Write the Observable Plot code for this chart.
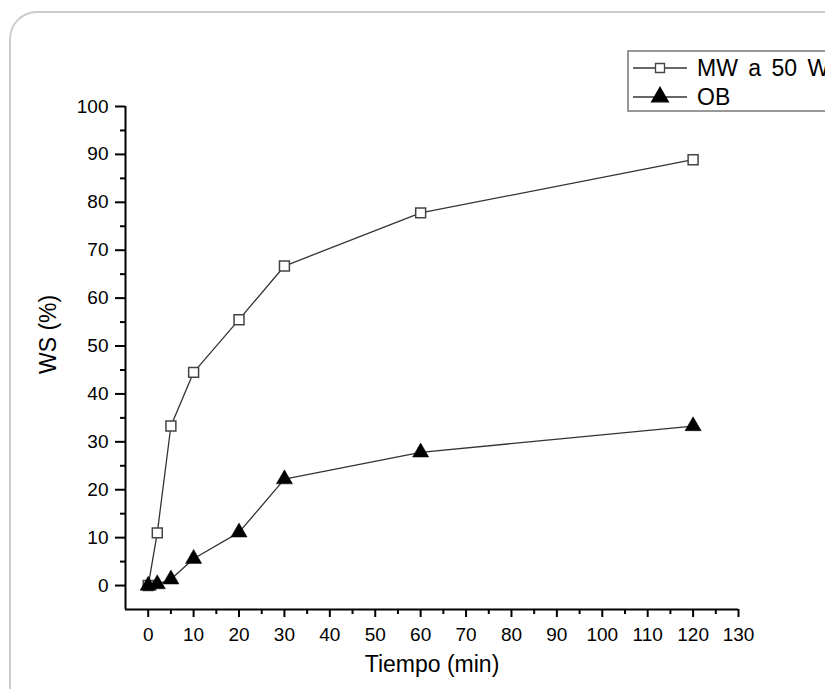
<!DOCTYPE html>
<html>
<head>
<meta charset="utf-8">
<script src="https://cdn.jsdelivr.net/npm/d3@7"></script>
<script src="https://cdn.jsdelivr.net/npm/@observablehq/plot@0.6"></script>
<style>
  html, body { margin: 0; padding: 0; background: #fff; }
  #wrap { position: relative; width: 825px; height: 689px; overflow: hidden; background: #fff; }
  #frame { position: absolute; left: 9px; top: 11px; width: 900px; height: 800px;
           border: 2.5px solid #cccccc; border-radius: 28px; box-sizing: border-box; }
  #chart { position: absolute; left: 0; top: 0; }
  #legend { position: absolute; left: 0; top: 0; pointer-events: none; }
</style>
</head>
<body>
<div id="wrap"><div id="frame"></div><div id="chart"></div></div>
<script>
// ---- data ----
const times = [0, 2, 5, 10, 20, 30, 60, 120];
const mwValues = [0, 11.0, 33.3, 44.5, 55.5, 66.7, 77.8, 88.9];
const obValues = [0, 0.3, 1.3, 5.6, 11.1, 22.2, 27.8, 33.3];
const seriesNames = ["MW a 50 W", "OB"];
const xTicks = [0, 10, 20, 30, 40, 50, 60, 70, 80, 90, 100, 110, 120, 130];
const xMinor = [5, 15, 25, 35, 45, 55, 65, 75, 85, 95, 105, 115, 125];
const yTicks = [0, 10, 20, 30, 40, 50, 60, 70, 80, 90, 100];
const yMinor = [5, 15, 25, 35, 45, 55, 65, 75, 85, 95];
const xLabel = "Tiempo (min)";
const yLabel = "WS (%)";

const mw = times.map((t, i) => ({t, v: mwValues[i]}));
const ob = times.map((t, i) => ({t, v: obValues[i]}));

const font = "'Liberation Sans', Arial, sans-serif";
const blank = () => "";

const plot = Plot.plot({
  width: 825,
  height: 689,
  marginLeft: 125,
  marginRight: 87,
  marginTop: 106,
  marginBottom: 80,
  style: {fontFamily: font, background: "transparent", color: "#000", overflow: "visible"},
  x: {domain: [-5, 130]},
  y: {domain: [-5, 100]},
  marks: [
    Plot.axisX({ticks: xTicks, tickSize: 8, tickPadding: 10, strokeWidth: 2, fontSize: 19, label: null}),
    Plot.axisX({ticks: xMinor, tickSize: 5, strokeWidth: 2, tickFormat: blank, label: null}),
    Plot.axisY({ticks: yTicks, tickSize: 10, tickPadding: 7, strokeWidth: 2, fontSize: 19, label: null}),
    Plot.axisY({ticks: yMinor, tickSize: 5, strokeWidth: 2, tickFormat: blank, label: null}),
    Plot.ruleY([-5], {x1: -5, x2: 130, stroke: "#000", strokeWidth: 2}),
    Plot.ruleX([-5], {y1: -5, y2: 100, stroke: "#000", strokeWidth: 2}),
    Plot.line(mw, {x: "t", y: "v", stroke: "#333", strokeWidth: 1.3}),
    Plot.line(ob, {x: "t", y: "v", stroke: "#333", strokeWidth: 1.3}),
    Plot.dot(mw, {x: "t", y: "v", symbol: "square", r: 5.6, fill: "#fff", stroke: "#444", strokeWidth: 1.5}),
    Plot.dot(ob, {x: "t", y: "v", symbol: "triangle", r: 6, fill: "#000", stroke: "#000", strokeWidth: 0.5}),
    Plot.text([xLabel], {frameAnchor: "bottom", dy: 62, fontSize: 23, fill: "#000", text: d => d}),
    Plot.text([yLabel], {frameAnchor: "left", dx: -77, dy: 16, rotate: -90, fontSize: 23, fill: "#000", text: d => d})
  ]
});
document.getElementById("chart").appendChild(plot);

// ---- legend ----
const leg = d3.select("#wrap").append("svg").attr("id", "legend")
  .attr("width", 825).attr("height", 689);
leg.append("rect").attr("x", 628).attr("y", 51).attr("width", 300).attr("height", 60)
  .attr("fill", "#fff").attr("stroke", "#777").attr("stroke-width", 1.5);
const rows = [
  {name: seriesNames[0], y: 68, sym: d3.symbolSquare, size: 81, fill: "#fff", stroke: "#444"},
  {name: seriesNames[1], y: 97, sym: d3.symbolTriangle, size: 120, fill: "#000", stroke: "#000"}
];
rows.forEach(r => {
  leg.append("line").attr("x1", 633).attr("x2", 687).attr("y1", r.y).attr("y2", r.y)
    .attr("stroke", "#333").attr("stroke-width", 1.3);
  leg.append("path").attr("d", d3.symbol(r.sym, r.size)())
    .attr("transform", `translate(660,${r.y})`)
    .attr("fill", r.fill).attr("stroke", r.stroke).attr("stroke-width", 1.3);
  leg.append("text").attr("x", 697).attr("y", r.y).attr("dy", "0.35em")
    .attr("font-family", font).attr("font-size", 23).attr("word-spacing", "4px")
    .attr("fill", "#000").text(r.name);
});
</script>
</body>
</html>
